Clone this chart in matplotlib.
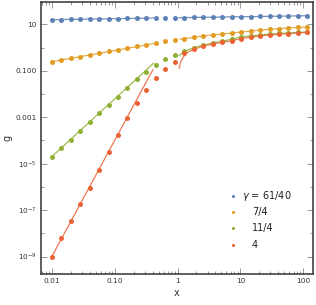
import numpy as np
import matplotlib

matplotlib.use('Agg')
import matplotlib.pyplot as plt
from matplotlib.ticker import LogLocator, NullFormatter

# sample points (x), same grid for every gamma
x_pts = [0.01, 0.0141, 0.02, 0.0283, 0.04, 0.0566, 0.08, 0.113, 0.16, 0.226,
         0.32, 0.453, 0.64, 0.905, 1.28, 1.81, 2.56, 3.62, 5.12, 7.24,
         10.24, 14.5, 20.5, 29.0, 41.0, 57.9, 81.9, 115.9]

# log10(g)
lg_blue = [1.198, 1.205, 1.211, 1.218, 1.224, 1.231, 1.238, 1.244, 1.251, 1.258,
           1.264, 1.271, 1.277, 1.283, 1.289, 1.295, 1.301, 1.307, 1.313, 1.319,
           1.325, 1.331, 1.337, 1.343, 1.349, 1.356, 1.363, 1.370]
lg_orange = [-0.609, -0.536, -0.463, -0.394, -0.308, -0.235, -0.162, -0.093, -0.020, 0.053,
             0.109, 0.182, 0.268, 0.324, 0.380, 0.441, 0.497, 0.540, 0.583, 0.625,
             0.665, 0.710, 0.750, 0.785, 0.815, 0.840, 0.865, 0.884]
lg_green = [-4.697, -4.336, -3.978, -3.591, -3.204, -2.830, -2.472, -2.115, -1.728, -1.367,
            -1.040, -0.764, -0.506, -0.308, -0.136, -0.007, 0.109, 0.195, 0.268, 0.360,
            0.454, 0.500, 0.540, 0.578, 0.604, 0.630, 0.647, 0.669]
lg_red = [-9.00, -8.21, -7.48, -6.73, -6.03, -5.26, -4.51, -3.76, -3.04, -2.40,
          -1.83, -1.30, -0.91, -0.61, -0.25, -0.076, 0.053, 0.152, 0.225, 0.290,
          0.380, 0.441, 0.497, 0.540, 0.570, 0.596, 0.626, 0.656]

# small-x asymptotic lines (end points)
small_x = {'blue': ([0.01, 0.45], [1.198, 1.271]),
           'orange': ([0.01, 0.45], [-0.609, 0.182]),
           'green': ([0.01, 0.415], [-4.697, -0.68]),
           'red': ([0.01, 0.405], [-9.0, -0.96])}
# large-x lines: start of the curve, then it runs along the dots from index 15
large_start = {'blue': ([1.06, 1.28], [1.285, 1.289]),
               'orange': ([1.09, 1.28], [0.367, 0.380]),
               'green': ([1.06, 1.25], [-0.351, -0.179]),
               'red': ([1.06, 1.12, 1.2, 1.36], [-0.89, -0.62, -0.463, -0.248])}

labels = [r'$\gamma$ = 61/40', '7/4', '11/4', '4']
colors = {'blue': '#5E81B5', 'orange': '#E19C24', 'green': '#8FB032', 'red': '#EB6235'}
series = {'blue': lg_blue, 'orange': lg_orange, 'green': lg_green, 'red': lg_red}


def main():
    fig = plt.figure(figsize=(3.16, 3.05), dpi=100)
    ax = fig.add_axes([0.129, 0.1016, 0.8615, 0.8918])
    ax.set_xscale('log')
    ax.set_yscale('log')

    x = np.array(x_pts)
    for name, lg in series.items():
        c = colors[name]
        g = 10 ** np.array(lg)
        sx, sl = small_x[name]
        ax.plot(sx, 10 ** np.array(sl), color=c, lw=0.9, alpha=0.85, zorder=2)
        lx, ll = large_start[name]
        ax.plot(np.r_[lx, x[15:]], 10 ** np.r_[ll, np.array(lg)[15:]],
                color=c, lw=0.9, alpha=0.85, zorder=2)
        ax.plot(x, g, 'o', color=c, ms=3.6, mec='none', zorder=3)

    ax.set_xlim(0.00668, 142.6)
    ax.set_ylim(1.78e-10, 91)

    ax.set_xticks([0.01, 0.1, 1, 10, 100])
    ax.set_xticklabels(['0.01', '0.10', '1', '10', '100'])
    ax.xaxis.set_minor_locator(LogLocator(base=10, subs=np.arange(2, 10)))
    ax.xaxis.set_minor_formatter(NullFormatter())
    ax.set_yticks([10, 0.1, 1e-3, 1e-5, 1e-7, 1e-9])
    ax.set_yticklabels(['10', '0.100', '0.001', '$10^{-5}$', '$10^{-7}$', '$10^{-9}$'])
    ax.set_yticks([1, 1e-2, 1e-4, 1e-6, 1e-8], minor=True)
    ax.yaxis.set_minor_formatter(NullFormatter())

    ax.tick_params(which='both', direction='in', top=True, right=True,
                   color='#888888', width=0.6, labelsize=5.3, labelcolor='#333333', pad=3)
    ax.tick_params(which='major', length=4)
    ax.tick_params(which='minor', length=2)
    for s in ax.spines.values():
        s.set_color('#333333')
        s.set_linewidth(1.1)

    ax.set_xlabel('x', fontsize=7, color='#333333', labelpad=3)
    ax.set_ylabel('g', fontsize=7, color='#333333')
    ax.yaxis.set_label_coords(-0.102, 0.5)

    # legend drawn by hand so the labels line up like the original
    rows = [0.287, 0.228, 0.169, 0.107]
    for i, name in enumerate(series):
        ax.plot([0.706], [rows[i]], 'o', color=colors[name], ms=2.2, mec='none',
                transform=ax.transAxes)
        tx = 0.738 if i == 0 else 0.775
        ax.text(tx, rows[i], labels[i], transform=ax.transAxes, fontsize=7,
                color='#222222', va='center', ha='left')

    fig.savefig('out.png', dpi=100)


if __name__ == '__main__':
    main()
